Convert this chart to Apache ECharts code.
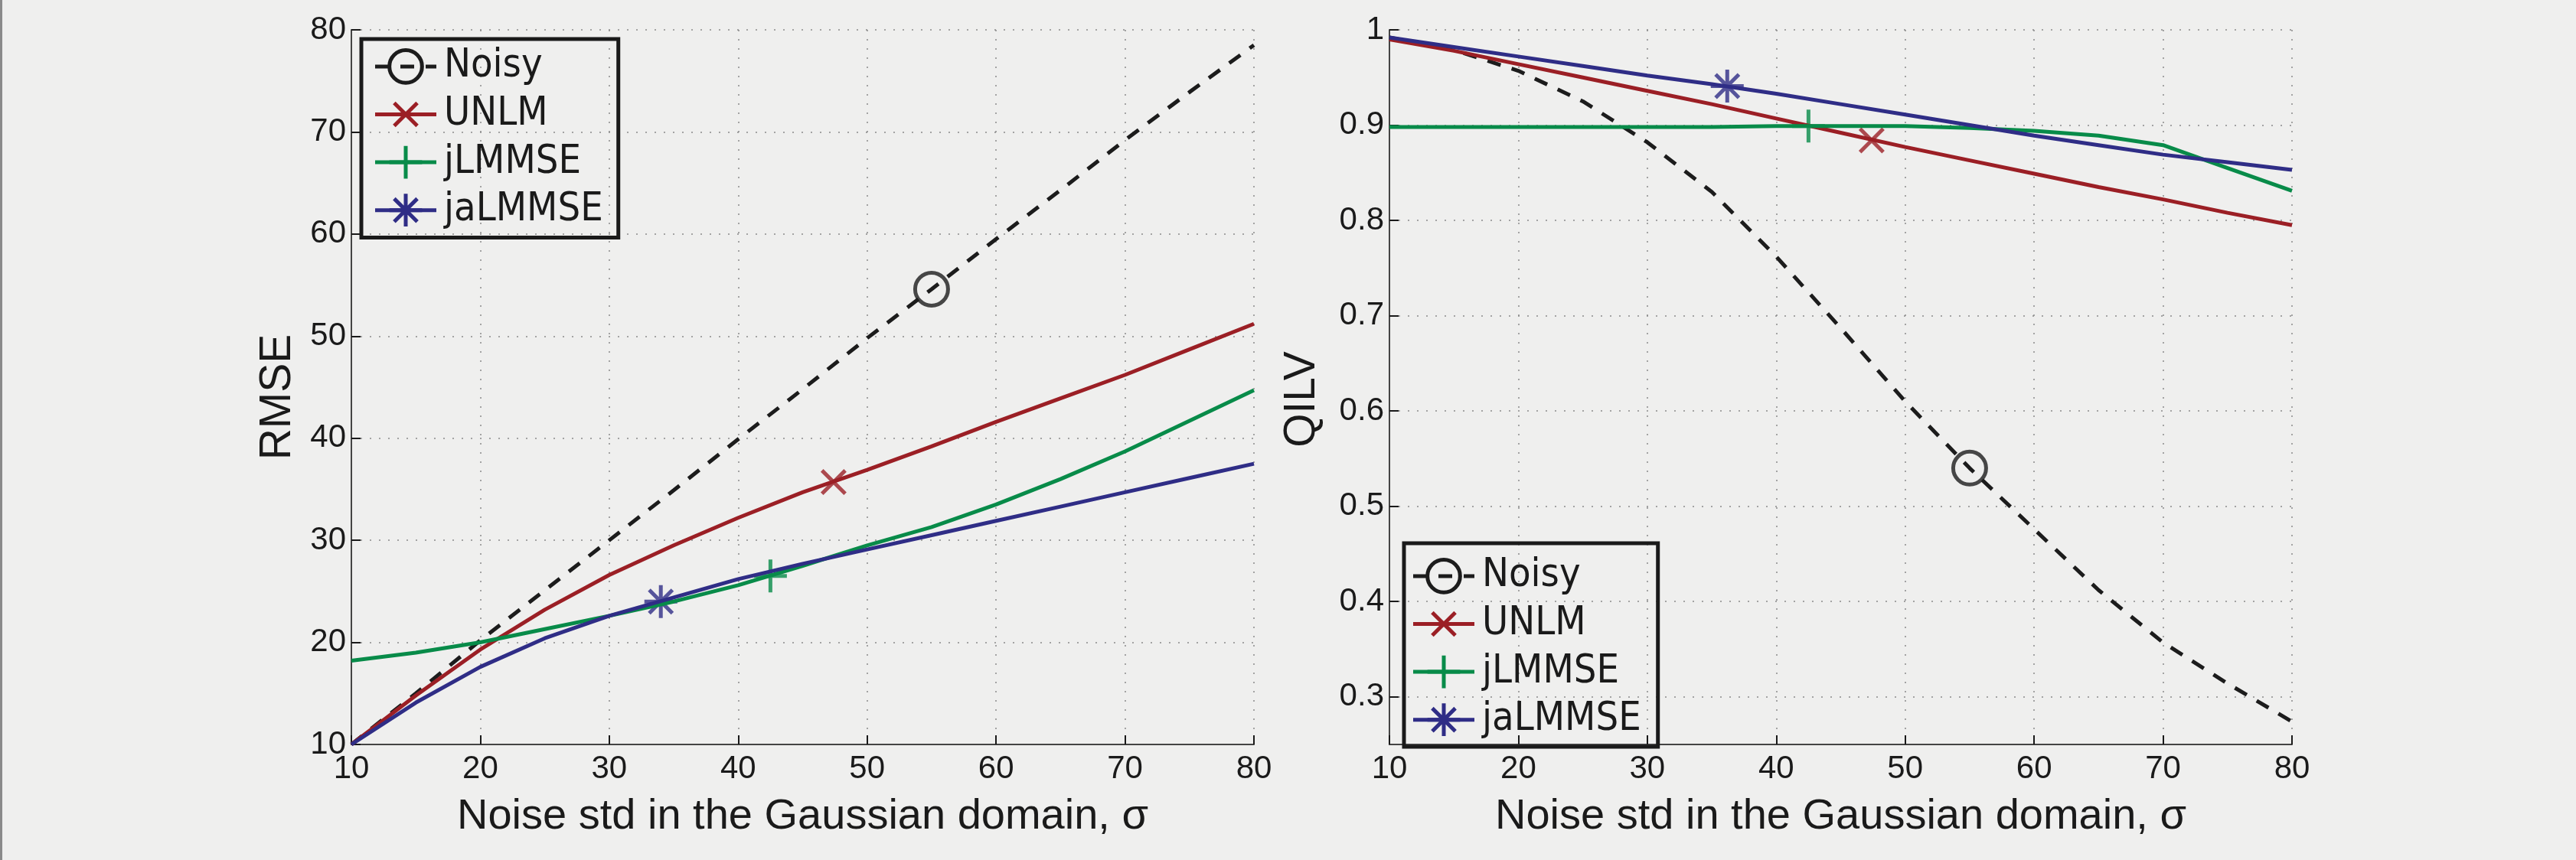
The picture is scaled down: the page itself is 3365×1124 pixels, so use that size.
<!DOCTYPE html>
<html>
<head>
<meta charset="utf-8">
<script src="https://cdn.jsdelivr.net/npm/echarts@6/dist/echarts.min.js"></script>
<style>
html,body{margin:0;padding:0;background:#efefee;}
#chart{width:3365px;height:1124px;}
</style>
</head>
<body>
<div id="chart"></div>
<script>
// ---- data ----
const sigma = [10, 15, 20, 25, 30, 35, 40, 45, 50, 55, 60, 65, 70, 75, 80];
const seriesNames = ['Noisy', 'UNLM', 'jLMMSE', 'jaLMMSE'];

const rmseNoisy   = [10, 15, 20.2, 25.1, 30, 34.9, 39.9, 44.8, 49.8, 54.6, 59.5, 64.3, 69.2, 73.9, 78.5];
const rmseUNLM    = [10, 14.8, 19.3, 23.2, 26.6, 29.5, 32.2, 34.7, 36.9, 39.2, 41.6, 43.9, 46.2, 48.7, 51.2];
const rmseJLMMSE  = [18.2, 19.0, 20.0, 21.3, 22.6, 24.0, 25.6, 27.5, 29.5, 31.3, 33.5, 36.0, 38.7, 41.7, 44.7];
const rmseJaLMMSE = [10, 14.1, 17.6, 20.4, 22.6, 24.4, 26.2, 27.7, 29.1, 30.5, 31.9, 33.3, 34.7, 36.1, 37.5];

const qilvNoisy   = [0.992, 0.979, 0.957, 0.925, 0.882, 0.830, 0.762, 0.687, 0.610, 0.540, 0.476, 0.412, 0.357, 0.314, 0.274];
const qilvUNLM    = [0.990, 0.978, 0.964, 0.950, 0.936, 0.922, 0.907, 0.892, 0.877, 0.863, 0.849, 0.835, 0.822, 0.808, 0.795];
const qilvJLMMSE  = [0.898, 0.898, 0.898, 0.898, 0.898, 0.898, 0.899, 0.899, 0.899, 0.897, 0.894, 0.889, 0.879, 0.855, 0.831];
const qilvJaLMMSE = [0.992, 0.982, 0.972, 0.962, 0.952, 0.943, 0.933, 0.922, 0.911, 0.900, 0.889, 0.879, 0.869, 0.861, 0.853];

// single marker per curve (x, y)
const markerSigmaRMSE = [55, 47.4, 42.5, 34];
const markerRMSE      = [54.6, 35.7, 26.5, 24.0];
const markerSigmaQILV = [55, 47.4, 42.5, 36.2];
const markerQILV      = [0.540, 0.884, 0.899, 0.941];

const xTicks = [10, 20, 30, 40, 50, 60, 70, 80];

// ---- styles ----
const colors = ['#1c1c1c', '#9b1f25', '#088b49', '#2f2d86'];
const lineTypes = [[18, 15], 'solid', 'solid', 'solid'];
const symbols = [
  'path://M0 0M100 100M50 7A43 43 0 0 1 50 93A43 43 0 0 1 50 7Z',
  'path://M0 0M100 100M19.6 19.6L80.4 80.4M19.6 80.4L80.4 19.6',
  'path://M0 0M100 100M50 7L50 93M7 50L93 50',
  'path://M0 0M100 100M50 7L50 93M7 50L93 50M19.6 19.6L80.4 80.4M19.6 80.4L80.4 19.6'
];
const LW = 5;
const tickFont = '"Liberation Sans", Arial, Helvetica, sans-serif';
const legendFont = '"DejaVu Sans Condensed", "DejaVu Sans", Verdana, sans-serif';
const ink = '#1a1a1a';

function zip(xs, ys) { return xs.map((x, i) => [x, ys[i]]); }

function buildSeries(gridIdx, ysList, mx, my) {
  const out = [];
  ysList.forEach((ys, k) => {
    out.push({
      type: 'line', name: seriesNames[k], xAxisIndex: gridIdx, yAxisIndex: gridIdx,
      data: zip(sigma, ys), showSymbol: false, symbol: symbols[k], symbolSize: 50,
      lineStyle: { color: colors[k], width: LW, type: lineTypes[k] },
      itemStyle: { color: 'transparent', borderColor: colors[k], borderWidth: LW },
      emphasis: { disabled: true }, silent: true
    });
    out.push({
      type: 'scatter', name: seriesNames[k] + ' marker', xAxisIndex: gridIdx, yAxisIndex: gridIdx,
      data: [[mx[k], my[k]]], symbol: symbols[k], symbolSize: 50,
      itemStyle: { color: 'transparent', borderColor: colors[k], borderWidth: LW },
      emphasis: { disabled: true }, silent: true
    });
  });
  return out;
}

const splitLine = { show: true, lineStyle: { color: '#8a8a8a', width: 1.5, type: [2, 10] } };
const axisLine = { show: true, onZero: false, lineStyle: { color: '#444', width: 2 } };
const axisTick = { show: true, inside: true, length: 12, lineStyle: { color: ink, width: 2 } };

function xAxisCfg(gi) {
  return {
    type: 'value', gridIndex: gi, min: xTicks[0], max: xTicks[xTicks.length - 1], interval: 10,
    name: 'Noise std in the Gaussian domain, σ', nameLocation: 'middle', nameGap: 67,
    nameTextStyle: { fontSize: 56, color: ink, fontFamily: tickFont },
    axisLine, axisTick, splitLine,
    axisLabel: { fontSize: 42, color: ink, fontFamily: tickFont, margin: 11 }
  };
}

function legendCfg(left, top, padding) {
  return {
    data: seriesNames, orient: 'vertical', left, top, padding,
    itemWidth: 80, itemHeight: 62, itemGap: 8,
    borderColor: ink, borderWidth: 5, backgroundColor: 'transparent',
    textStyle: { fontSize: 52, color: ink, fontFamily: legendFont, padding: [0, 0, 0, 5] },
    lineStyle: { width: LW },
    itemStyle: { borderWidth: LW },
    selectedMode: false
  };
}

const option = {
  backgroundColor: '#efefee',
  animation: false,
  graphic: [{ type: 'rect', shape: { x: 0, y: 0, width: 3, height: 1124 }, style: { fill: '#8a8a8a' }, silent: true }],
  grid: [
    { left: 459, right: 1727, top: 39, bottom: 151, containLabel: false },
    { left: 1815, right: 371, top: 39, bottom: 151, containLabel: false }
  ],
  xAxis: [xAxisCfg(0), xAxisCfg(1)],
  yAxis: [
    {
      type: 'value', gridIndex: 0, min: 10, max: 80, interval: 10,
      name: 'RMSE', nameLocation: 'middle', nameGap: 67,
      nameTextStyle: { fontSize: 57, color: ink, fontFamily: tickFont, padding: [0, 26, 0, 0] },
      axisLine, axisTick, splitLine,
      axisLabel: { fontSize: 42, color: ink, fontFamily: tickFont, margin: 7 }
    },
    {
      type: 'value', gridIndex: 1, min: 0.25, max: 1, splitNumber: 7,
      name: 'QILV', nameLocation: 'middle', nameGap: 85,
      nameTextStyle: { fontSize: 57, color: ink, fontFamily: tickFont, padding: [0, 32, 0, 0] },
      axisLine, axisTick, splitLine,
      axisLabel: { fontSize: 42, color: ink, fontFamily: tickFont, margin: 7, showMinLabel: false }
    }
  ],
  legend: [
    legendCfg(472, 51, [8.6, 20, 8.6, 15.5]),
    legendCfg(1834, 710, [15.6, 22, 8, 9.5])
  ],
  series: [].concat(
    buildSeries(0, [rmseNoisy, rmseUNLM, rmseJLMMSE, rmseJaLMMSE], markerSigmaRMSE, markerRMSE),
    buildSeries(1, [qilvNoisy, qilvUNLM, qilvJLMMSE, qilvJaLMMSE], markerSigmaQILV, markerQILV)
  )
};

const chart = echarts.init(document.getElementById('chart'), null, { renderer: 'canvas' });
chart.setOption(option);
</script>
</body>
</html>
